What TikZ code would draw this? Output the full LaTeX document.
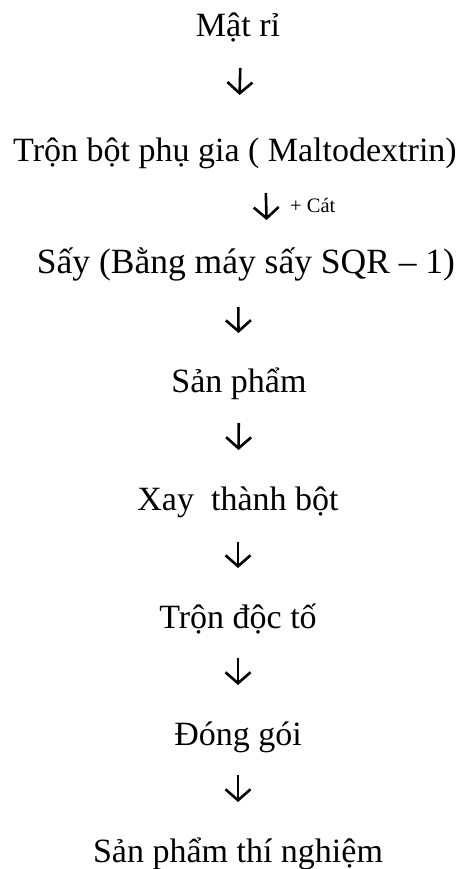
\documentclass[tikz,border=0pt]{standalone}
\usepackage{fontspec}
\setmainfont{Liberation Serif}
\usetikzlibrary{arrows.meta}
\begin{document}
\begin{tikzpicture}[x=1pt,y=-1pt,
  steptext/.style={anchor=base,inner sep=0pt,font=\fontsize{34}{40}\selectfont},
  sidetext/.style={anchor=base west,inner sep=0pt,font=\fontsize{20.5}{24}\selectfont},
  flowarrow/.style 2 args={line width=2.6pt,shorten <=#1,shorten >=#2,
    -{Straight Barb[length=11pt,width=25pt,line width=2.6pt]}}]
\useasboundingbox (0,0) rectangle (468,869);
\node[steptext] (n1) at (238,37) {Mật rỉ};
\node[steptext] (n2) at (235,162) {Trộn bột phụ gia ( Maltodextrin)};
\node[steptext,font=\fontsize{35.5}{42}\selectfont] (n3) at (246,273) {Sấy (Bằng máy sấy SQR – 1)};
\node[steptext] (n4) at (239,392) {Sản phẩm};
\node[steptext] (n5) at (238,510) {Xay\ \ thành bột};
\node[steptext] (n6) at (238,628) {Trộn độc tố};
\node[steptext] (n7) at (238,745) {Đóng gói};
\node[steptext] (n8) at (238,862) {Sản phẩm thí nghiệm};
\node[sidetext] (cat) at (290,212) {+ Cát};
\draw[flowarrow={31pt}{67pt}] ([xshift=3pt]n1.base) -- ([xshift=3pt]n2.base);
\draw[flowarrow={31pt}{53pt}] ([xshift=30pt]n2.base) -- ([xshift=22pt]n3.base);
\draw[flowarrow={34pt}{59pt}] ([xshift=-8pt]n3.base) -- (n4.base);
\draw[flowarrow={31pt}{60pt}] (n4.base) -- (n5.base);
\draw[flowarrow={32pt}{60pt}] (n5.base) -- (n6.base);
\draw[flowarrow={30pt}{60pt}] (n6.base) -- (n7.base);
\draw[flowarrow={30pt}{60pt}] (n7.base) -- (n8.base);
\end{tikzpicture}
\end{document}
